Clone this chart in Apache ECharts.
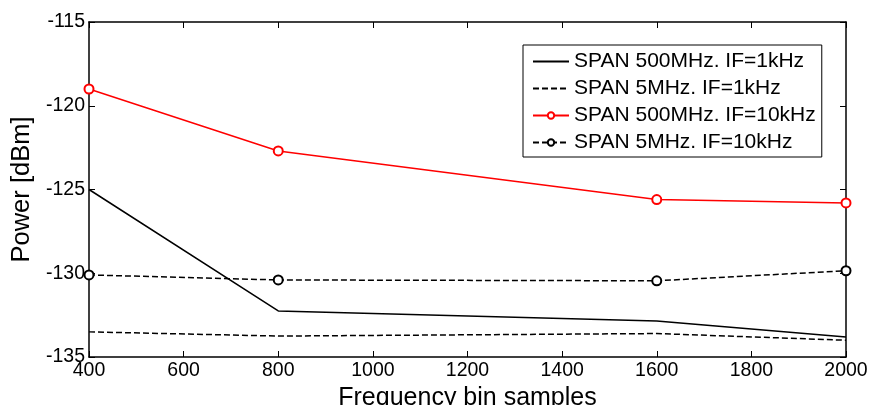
<!DOCTYPE html>
<html>
<head>
<meta charset="utf-8">
<script src="https://cdn.jsdelivr.net/npm/echarts@6/dist/echarts.min.js"></script>
<style>
html,body{margin:0;padding:0;background:#fff;}
#chart{width:871px;height:405px;}
</style>
</head>
<body>
<div id="chart"></div>
<script>
const xValues = [400, 800, 1600, 2000];
const seriesNames = ['SPAN 500MHz. IF=1kHz', 'SPAN 5MHz. IF=1kHz', 'SPAN 500MHz. IF=10kHz', 'SPAN 5MHz. IF=10kHz'];
const span500If1 = [-125.0, -132.25, -132.85, -133.8];
const span5If1 = [-133.5, -133.75, -133.6, -134.0];
const span500If10 = [-119.0, -122.7, -125.6, -125.8];
const span5If10 = [-130.1, -130.4, -130.45, -129.85];
const xTitle = 'Frequency bin samples';
const yTitle = 'Power [dBm]';

const font = 'Liberation Sans, Arial, Helvetica, sans-serif';
function pairs(vals){ return xValues.map((x,i)=>[x, vals[i]]); }
const plain = v => String(v);

const chart = echarts.init(document.getElementById('chart'), null, {renderer:'canvas'});
const option = {
  animation: false,
  backgroundColor: '#fff',
  grid: {left: 89, right: 25, top: 22, bottom: 48, containLabel: false, outerBoundsMode: 'none'},
  legend: {
    orient: 'vertical',
    left: 523, top: 45,
    backgroundColor: '#fff',
    borderColor: '#000', borderWidth: 1,
    padding: [6, 6, 4, 9],
    itemWidth: 36, itemHeight: 8, itemGap: 6,
    textStyle: {fontFamily: font, fontSize: 21, color: '#000'},
    data: [
      {name: seriesNames[0], itemStyle: {opacity: 0}},
      {name: seriesNames[1], itemStyle: {opacity: 0}},
      {name: seriesNames[2]},
      {name: seriesNames[3]}
    ]
  },
  xAxis: [{
    type: 'value', min: 400, max: 2000, interval: 200,
    position: 'bottom',
    name: xTitle, nameLocation: 'middle', nameGap: 23,
    nameTextStyle: {fontFamily: font, fontSize: 25, color: '#000'},
    axisLine: {show: true, onZero: false, lineStyle: {color: '#000', width: 1.5}},
    axisTick: {show: true, inside: true, length: 6, lineStyle: {color: '#000', width: 1}},
    axisLabel: {fontFamily: font, fontSize: 19.5, color: '#000', margin: 4, formatter: plain},
    splitLine: {show: false}
  }, {
    type: 'value', min: 400, max: 2000, interval: 200,
    position: 'top',
    axisLine: {show: true, onZero: false, lineStyle: {color: '#000', width: 1.5}},
    axisTick: {show: true, inside: true, length: 6, lineStyle: {color: '#000', width: 1}},
    axisLabel: {show: false},
    splitLine: {show: false}
  }],
  yAxis: [{
    type: 'value', min: -135, max: -115, interval: 5,
    position: 'left',
    name: yTitle, nameLocation: 'middle', nameGap: 51, nameRotate: 90,
    nameTextStyle: {fontFamily: font, fontSize: 25.5, color: '#000'},
    axisLine: {show: true, onZero: false, lineStyle: {color: '#000', width: 1.5}},
    axisTick: {show: true, inside: true, length: 6, lineStyle: {color: '#000', width: 1}},
    axisLabel: {fontFamily: font, fontSize: 19.5, color: '#000', margin: 4, formatter: plain},
    splitLine: {show: false}
  }, {
    type: 'value', min: -135, max: -115, interval: 5,
    position: 'right',
    axisLine: {show: true, onZero: false, lineStyle: {color: '#000', width: 1.5}},
    axisTick: {show: true, inside: true, length: 6, lineStyle: {color: '#000', width: 1}},
    axisLabel: {show: false},
    splitLine: {show: false}
  }],
  series: [
    {name: seriesNames[0], type: 'line', data: pairs(span500If1), symbol: 'none',
     lineStyle: {color: '#000', width: 1.5}, itemStyle: {color: '#000'}},
    {name: seriesNames[1], type: 'line', data: pairs(span5If1), symbol: 'none',
     lineStyle: {color: '#000', width: 1.5, type: [6, 3]}, itemStyle: {color: '#000'}},
    {name: seriesNames[2], type: 'line', data: pairs(span500If10), symbol: 'emptyCircle', symbolSize: 9,
     lineStyle: {color: '#ff0000', width: 1.5}, itemStyle: {color: '#ff0000', borderWidth: 1.5}},
    {name: seriesNames[3], type: 'line', data: pairs(span5If10), symbol: 'emptyCircle', symbolSize: 9,
     lineStyle: {color: '#000', width: 1.5, type: [6, 3]}, itemStyle: {color: '#000', borderWidth: 1.5}}
  ]
};
chart.setOption(option);
</script>
</body>
</html>
